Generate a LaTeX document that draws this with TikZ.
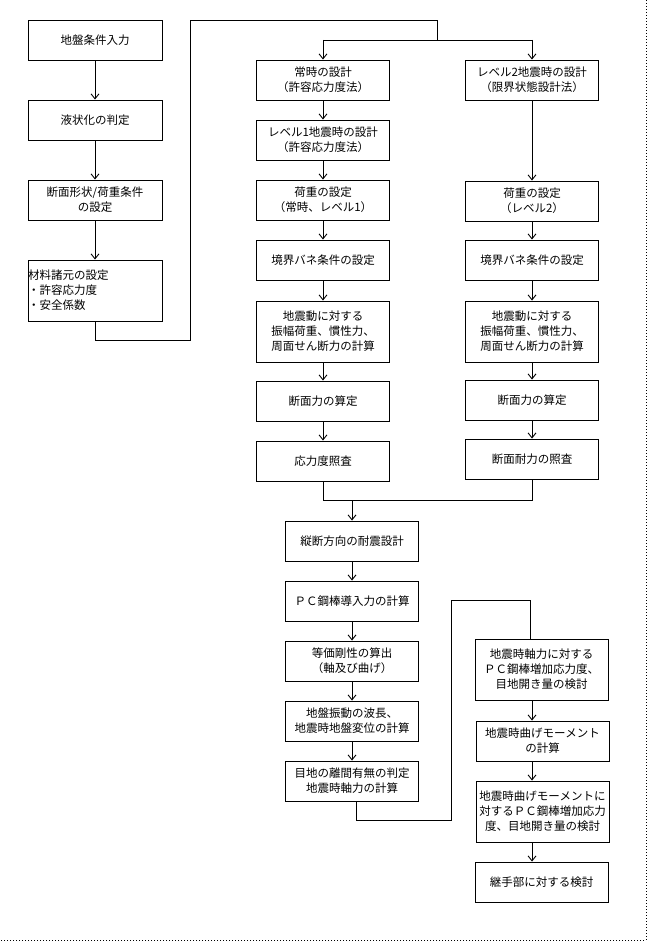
\documentclass[tikz,border=0pt]{standalone}
\usepackage{fontspec}
\newfontfamily\cjk{Noto Sans CJK JP}
\usetikzlibrary{arrows.meta,calc}
\tikzset{
  bx/.style={draw, line width=0.9pt, minimum width=133pt, minimum height=40pt, inner sep=0pt,
    align=center, font=\cjk\fontsize{11.5pt}{15pt}\selectfont},
  tall/.style={minimum height=61pt},
  ln/.style={line width=0.9pt},
  arr/.style={line width=0.9pt, -{Straight Barb[length=5pt,width=8pt]}},
  frame/.style={line width=1pt, dotted}
}
\begin{document}
\begin{tikzpicture}[x=1pt,y=-1pt]
\useasboundingbox (0,0) rectangle (647,941);
\draw[frame] (646,0) -- (646,940) -- (0,940);

% left column
\node[bx, minimum width=134pt] (b1) at (95,40) {地盤条件入力};
\node[bx, minimum width=134pt] (b2) at (95,120) {液状化の判定};
\node[bx, minimum width=134pt] (b3) at (95,200) {断面形状/荷重条件\\の設定};
\node[bx, tall, minimum width=134pt, align=left, text width=134pt] (b4) at (95,290.5) {材料諸元の設定\\・許容応力度\\・安全係数};
\draw[arr] (b1) -- (b2);
\draw[arr] (b2) -- (b3);
\draw[arr] (b3) -- (b4);

% middle column
\node[bx] (m1) at (323,80) {常時の設計\\（許容応力度法）};
\node[bx] (m2) at (323,140) {レベル1地震時の設計\\（許容応力度法）};
\node[bx] (m3) at (323,200) {荷重の設定\\（常時、レベル1）};
\node[bx] (m4) at (323,260) {境界バネ条件の設定};
\node[bx, tall] (m5) at (323,331.5) {地震動に対する\\振幅荷重、慣性力、\\周面せん断力の計算};
\node[bx] (m6) at (323,401) {断面力の算定};
\node[bx] (m7) at (323,461) {応力度照査};
\draw[arr] (m1) -- (m2);
\draw[arr] (m2) -- (m3);
\draw[arr] (m3) -- (m4);
\draw[arr] (m4) -- (m5);
\draw[arr] (m5) -- (m6);
\draw[arr] (m6) -- (m7);

% right column
\node[bx] (r1) at (532,80) {レベル2地震時の設計\\（限界状態設計法）};
\node[bx] (r3) at (532,201) {荷重の設定\\（レベル2）};
\node[bx] (r4) at (532,260) {境界バネ条件の設定};
\node[bx, tall] (r5) at (532,331.5) {地震動に対する\\振幅荷重、慣性力、\\周面せん断力の計算};
\node[bx] (r6) at (532,400) {断面力の算定};
\node[bx] (r7) at (532,459) {断面耐力の照査};
\draw[arr] (r1) -- (r3);
\draw[arr] (r3) -- (r4);
\draw[arr] (r4) -- (r5);
\draw[arr] (r5) -- (r6);
\draw[arr] (r6) -- (r7);

% top connector
\coordinate (t1) at (437,40);
\coordinate (tl) at (323,40);
\coordinate (tr) at (532,40);
\draw[ln] (b4.south) -- (95,340) -- (190,340) -- (190,20) -- (437,20) -- (t1);
\draw[ln] (tl) -- (tr);
\draw[arr] (tl) -- (m1.north);
\draw[arr] (tr) -- (r1.north);

% lower left column
\node[bx] (c1) at (352,541) {縦断方向の耐震設計};
\node[bx] (c2) at (352,601) {ＰＣ鋼棒導入力の計算};
\node[bx] (c3) at (352,661) {等価剛性の算出\\（軸及び曲げ）};
\node[bx] (c4) at (352,721) {地盤振動の波長、\\地震時地盤変位の計算};
\node[bx] (c5) at (352,781) {目地の離間有無の判定\\地震時軸力の計算};

% merge
\coordinate (ml) at (323,500);
\coordinate (mr) at (532,500);
\coordinate (mc) at (352,500);
\draw[ln] (m7.south) -- (ml) -- (mr) -- (r7.south);
\draw[arr] (mc) -- (c1.north);
\draw[arr] (c1) -- (c2);
\draw[arr] (c2) -- (c3);
\draw[arr] (c3) -- (c4);
\draw[arr] (c4) -- (c5);

% lower right column
\node[bx] (d1) at (541.5,669.5) [tall] {地震時軸力に対する\\ＰＣ鋼棒増加応力度、\\目地開き量の検討};
\node[bx] (d2) at (542.5,741) {地震時曲げモーメント\\の計算};
\node[bx, tall] (d3) at (542.5,811.5) {地震時曲げモーメントに\\対するＰＣ鋼棒増加応力\\度、目地開き量の検討};
\node[bx] (d4) at (541.5,882) {継手部に対する検討};

\coordinate (ax) at (532,0);
\draw[ln] ($(c5.south)+(4,0)$) -- (356,820) -- (451,820) -- (451,600) -- (530,600) -- (d1.north -| 530,0);
\draw[arr] (d1.south -| ax) -- (d2.north -| ax);
\draw[arr] (d2.south -| ax) -- (d3.north -| ax);
\draw[arr] (d3.south -| ax) -- (d4.north -| ax);
\end{tikzpicture}
\end{document}
